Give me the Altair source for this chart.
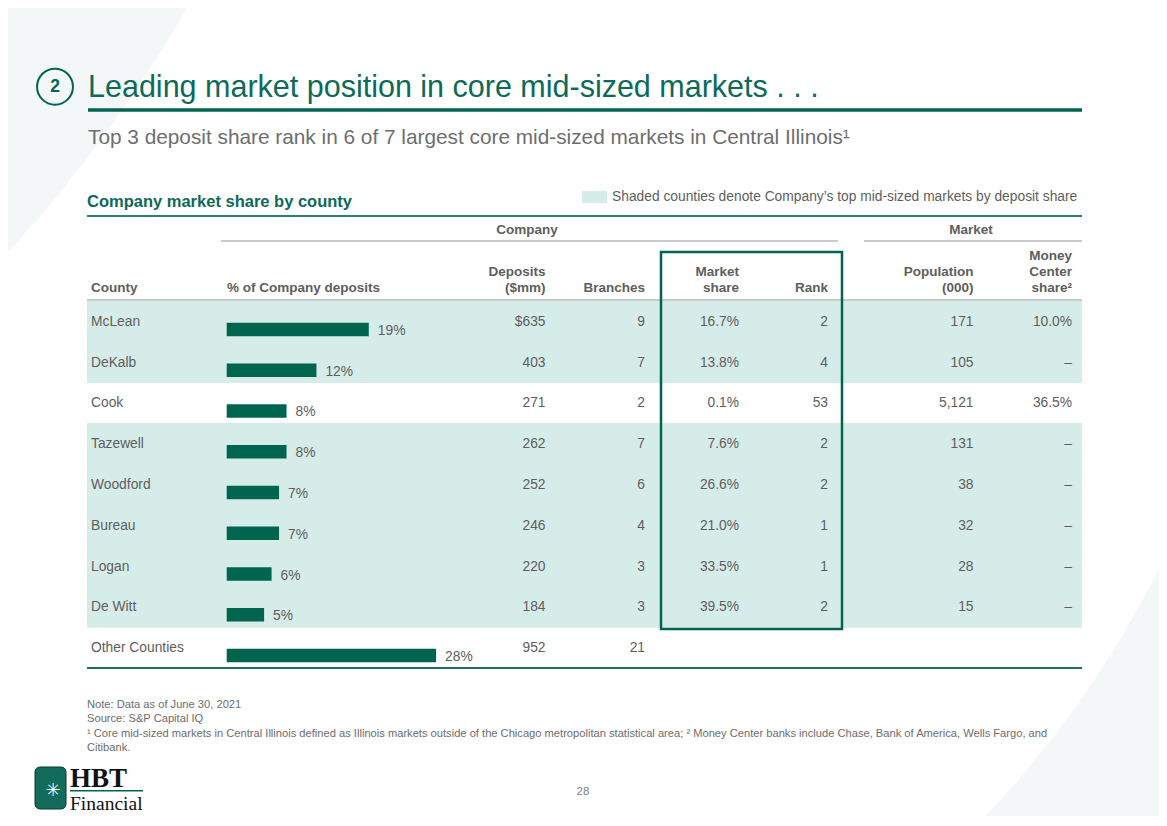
import altair as alt
import pandas as pd

# ---------------- data ----------------
counties = ["McLean", "DeKalb", "Cook", "Tazewell", "Woodford", "Bureau",
            "Logan", "De Witt", "Other Counties"]
pct_deposits = [19, 12, 8, 8, 7, 7, 6, 5, 28]
pct_labels = ["19%", "12%", "8%", "8%", "7%", "7%", "6%", "5%", "28%"]
deposits = ["$635", "403", "271", "262", "252", "246", "220", "184", "952"]
branches = ["9", "7", "2", "7", "6", "4", "3", "3", "21"]
market_share = ["16.7%", "13.8%", "0.1%", "7.6%", "26.6%", "21.0%", "33.5%", "39.5%", ""]
rank = ["2", "4", "53", "2", "2", "1", "1", "2", ""]
population = ["171", "105", "5,121", "131", "38", "32", "28", "15", ""]
money_center = ["10.0%", "–", "36.5%", "–", "–", "–", "–", "–", ""]
shaded = [True, True, False, True, True, True, True, True, False]

title = "Leading market position in core mid-sized markets . . ."
subtitle = "Top 3 deposit share rank in 6 of 7 largest core mid-sized markets in Central Illinois¹"
section = "Company market share by county"
legend_text = "Shaded counties denote Company’s top mid-sized markets by deposit share"
footnotes = [
    "Note: Data as of June 30, 2021",
    "Source: S&P Capital IQ",
    "¹ Core mid-sized markets in Central Illinois defined as Illinois markets outside of the Chicago metropolitan statistical area; ² Money Center banks include Chase, Bank of America, Wells Fargo, and",
    "Citibank.",
]

# ---------------- styles ----------------
FONT = "Liberation Sans"
SERIF = "Liberation Serif"
TEAL = "#00654F"
TITLE_C = "#0B6A58"
SHADE = "#D6ECE8"
GREY = "#5E5E5E"
LIGHT = "#CBCBCB"
BG_TINT = "#F4F7F8"

table = pd.DataFrame({
    "county": counties, "pct": pct_deposits, "pct_label": pct_labels,
    "deposits": deposits, "branches": branches, "market_share": market_share,
    "rank": rank, "population": population, "money_center": money_center,
    "shaded": shaded,
})

one = pd.DataFrame({"a": [0]})


def tx(text, x, y, size=13.8, color=GREY, weight="normal", align="left",
       baseline="middle", font=FONT):
    return alt.Chart(pd.DataFrame({"t": [text]})).mark_text(
        align=align, baseline=baseline, fontSize=size, color=color,
        fontWeight=weight, font=font
    ).encode(x=alt.value(x), y=alt.value(y), text="t:N")


def rule(x1, x2, y, color, width):
    return alt.Chart(one).mark_rule(color=color, strokeWidth=width).encode(
        x=alt.value(x1), x2=alt.value(x2), y=alt.value(y))


def disk(cx, cy, r, color):
    return alt.Chart(one).mark_arc(radius=r, theta=0, theta2=6.2832, color=color,
                                   strokeWidth=0).encode(
        x=alt.value(cx), y=alt.value(cy))


layers = []

# faint decorative background shapes
layers.append(disk(228, 97, 1033, "#FFFFFF"))
layers.append(disk(-1023, -692, 1387, BG_TINT))

# title block
layers.append(alt.Chart(one).mark_point(shape="circle", filled=False, color=TEAL,
                                         strokeWidth=2, opacity=1).encode(
    x=alt.value(47), y=alt.value(78.7), size=alt.value(1290)))
layers.append(tx("2", 47, 79, size=17.5, color=TEAL, weight="bold", align="center"))
layers.append(tx(title, 80, 89, size=30.5, color=TITLE_C, baseline="alphabetic"))
layers.append(rule(80, 1074, 102, TEAL, 3.5))
layers.append(tx(subtitle, 80, 136, size=20.8, color="#6E6E6E", baseline="alphabetic"))

# section header + legend
layers.append(tx(section, 79, 198.7, size=16.5, color=TITLE_C, weight="bold",
                 baseline="alphabetic"))
layers.append(alt.Chart(one).mark_rect(color=SHADE).encode(
    x=alt.value(574), x2=alt.value(599), y=alt.value(183), y2=alt.value(195)))
layers.append(tx(legend_text, 604, 189, size=13.8))
layers.append(rule(79, 1074, 208, "#2E7E6F", 2))

# row shading
row_band = alt.Y("county:N", scale=alt.Scale(type="band", domain=counties,
                                             range=[293, 660], paddingInner=0,
                                             paddingOuter=0), axis=None)
layers.append(alt.Chart(table).transform_filter("datum.shaded").mark_rect(
    color=SHADE, stroke=SHADE, strokeWidth=1).encode(
    x=alt.value(79.5), x2=alt.value(1073.5), y=row_band))

# group headers
layers.append(tx("Company", 519, 222, size=13.5, weight="bold", align="center"))
layers.append(tx("Market", 963, 222, size=13.5, weight="bold", align="center"))
layers.append(rule(213, 830, 233, LIGHT, 2))
layers.append(rule(856, 1074, 233, LIGHT, 2))

# column headers
H1, H2, H3 = 247.7, 263.7, 280.3
hdr = [
    ("County", 83, H3, "left"),
    ("% of Company deposits", 219, H3, "left"),
    ("Deposits", 537.5, H2, "right"), ("($mm)", 537.5, H3, "right"),
    ("Branches", 637, H3, "right"),
    ("Market", 731, H2, "right"), ("share", 731, H3, "right"),
    ("Rank", 820, H3, "right"),
    ("Population", 965.5, H2, "right"), ("(000)", 965.5, H3, "right"),
    ("Money", 1064, H1, "right"), ("Center", 1064, H2, "right"),
    ("share²", 1064, H3, "right"),
]
for t, x, y, a in hdr:
    layers.append(tx(t, x, y, size=13.5, weight="bold", align=a))
layers.append(rule(79, 1074, 292, LIGHT, 2))

# bars
bar_x = alt.X("pct:Q", scale=alt.Scale(domain=[0, 28], range=[218.7, 428.1],
                                       nice=False, zero=True), axis=None)
bar_y = alt.Y("county:N", scale=alt.Scale(type="band", domain=counties,
                                          range=[301, 668], paddingInner=0,
                                          paddingOuter=0), axis=None)
layers.append(alt.Chart(table).mark_bar(color=TEAL, size=13.5).encode(x=bar_x, y=bar_y))
lab_y = alt.Y("county:N", scale=alt.Scale(type="point", domain=counties,
                                          range=[322.7, 649.1], padding=0), axis=None)
layers.append(alt.Chart(table).mark_text(
    align="left", baseline="middle", dx=9, fontSize=13.8, color=GREY, font=FONT
).encode(x=bar_x, y=lab_y, text="pct_label:N"))

# table body
row_y = alt.Y("county:N", scale=alt.Scale(type="point", domain=counties,
                                          range=[313.7, 640.1], padding=0), axis=None)
layers.append(alt.Chart(table).mark_text(
    align="left", baseline="middle", fontSize=13.8, color=GREY, font=FONT
).encode(x=alt.value(83), y=row_y, text="county:N"))
for field, xr in [("deposits", 537.5), ("branches", 637), ("market_share", 731),
                  ("rank", 820), ("population", 965.5), ("money_center", 1064)]:
    layers.append(alt.Chart(table).mark_text(
        align="right", baseline="middle", fontSize=13.8, color=GREY, font=FONT
    ).encode(x=alt.value(xr), y=row_y, text=f"{field}:N"))

# highlight box
layers.append(alt.Chart(one).mark_rect(fillOpacity=0, stroke=TEAL, strokeWidth=2.5).encode(
    x=alt.value(653), x2=alt.value(834), y=alt.value(244), y2=alt.value(621)))

layers.append(rule(79, 1074, 660, "#1F6E60", 1.8))

# footnotes
for t, y in zip(footnotes, [697, 711, 726, 740]):
    layers.append(tx(t, 79, y, size=11.15, color="#6D6D6D"))
layers.append(tx("28", 575, 784, size=11.5, color="#7F7F7F", align="center"))

# logo
layers.append(alt.Chart(one).mark_rect(color="#136B5B", cornerRadius=5,
                                       stroke="#0A3A30", strokeWidth=1).encode(
    x=alt.value(27), x2=alt.value(58), y=alt.value(759), y2=alt.value(801)))
layers.append(tx("✳", 45, 782.5, size=18, color="#FFFFFF", align="center",
                 font="DejaVu Sans"))
layers.append(tx("HBT", 62, 778.7, size=27, color="#111111", weight="bold",
                 baseline="alphabetic", font=SERIF))
layers.append(rule(62, 135, 782.7, TEAL, 1.5))
layers.append(tx("Financial", 62, 802, size=19.5, color="#111111",
                 baseline="alphabetic", font=SERIF))

chart = alt.layer(*layers).resolve_scale(x="independent", y="independent").properties(
    width=1151, height=808, padding=0, background=BG_TINT,
    autosize=alt.AutoSizeParams(type="none"),
).configure_view(strokeWidth=0)

chart.save("out.html", embed_options={"renderer": "svg", "actions": False})
